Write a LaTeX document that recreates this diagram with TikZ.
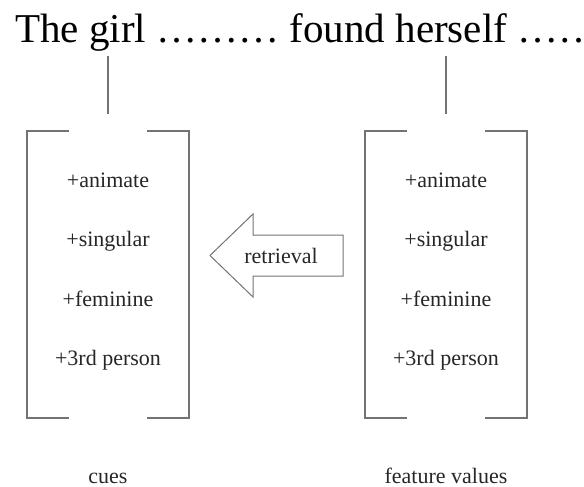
\documentclass[tikz,border=0pt]{standalone}
\usepackage{fontspec}
\setmainfont{Liberation Serif}
\usepackage{tikz}
\tikzset{>=latex}
\tikzset{
  bracketline/.style={draw=black!55,line width=1.3pt},
  feat/.style={anchor=base,inner sep=0pt,text=black!85,font=\fontsize{22}{26}\selectfont},
  boxlabel/.style={anchor=base,inner sep=0pt,text=black!85,font=\fontsize{22}{26}\selectfont}
}

\begin{document}
\begin{tikzpicture}[x=1pt,y=-1pt]
            \draw[draw=none,use as bounding box] (0,0) rectangle (584,487);
            \node[anchor=base west,inner sep=0pt,font=\fontsize{41}{48}\selectfont] (title) at (15,43) {The girl ……… found herself ……};
            % links from the words to the feature bundles
            \coordinate (girl) at (108,56);
            \coordinate (herself) at (446,56);
            \draw[bracketline,line width=1.1pt] (girl) -- ++(0,58);
            \draw[bracketline,line width=1.1pt] (herself) -- ++(0,58);
            % left bundle (cues)
            \draw[bracketline] (69,131) -- (27,131) -- (27,418) -- (69,418);
            \draw[bracketline] (147,131) -- (189,131) -- (189,418) -- (147,418);
            % right bundle (feature values)
            \draw[bracketline] (407,131) -- (365,131) -- (365,418) -- (407,418);
            \draw[bracketline] (485,131) -- (527,131) -- (527,418) -- (485,418);
            \foreach \name/\txt [count=\i] in {an/+animate,sg/+singular,fem/+feminine,pers/+3rd person}{
              \node[feat] (cue-\name) at (108,{187+59.6*(\i-1)}) {\txt};
              \node[feat] (val-\name) at (446,{187+59.6*(\i-1)}) {\txt};
            }
            % retrieval arrow
            \draw[draw=black!55,line width=1pt] (343,235) -- (253,235) -- (253,214) -- (210,255.5)
              -- (253,297) -- (253,276) -- (343,276) -- cycle;
            \node[feat] (retrieval) at (281,263) {retrieval};
            \node[boxlabel] (cues) at (108,483) {cues};
            \node[boxlabel] (values) at (446,483) {feature values};
        \end{tikzpicture}
\end{document}
